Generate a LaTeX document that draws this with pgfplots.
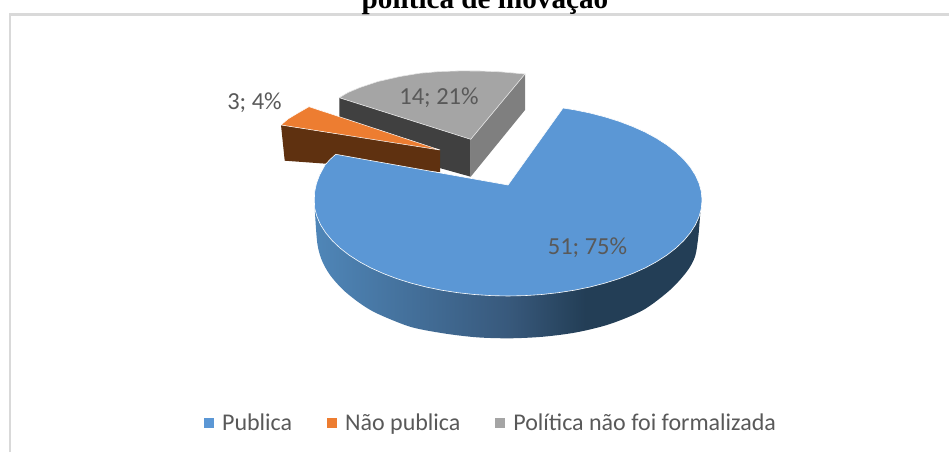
\documentclass[border=0pt]{standalone}
\usepackage{pgfplots}
\pgfplotsset{compat=1.18}
\usepackage{fontspec}
\setmainfont{Carlito}
\newfontfamily\titlefont{Liberation Serif}
\definecolor{blueTop}{HTML}{5B97D5}
\definecolor{orangeTop}{HTML}{ED7D31}
\definecolor{greyTop}{HTML}{A5A5A5}
\definecolor{greyLeft}{HTML}{404040}
\definecolor{greyRight}{HTML}{7F7F7F}
\definecolor{brownWall}{HTML}{5F3110}
\definecolor{txt}{HTML}{595959}
\definecolor{wallA}{HTML}{4F86B8}
\definecolor{wallB}{HTML}{38597C}
\definecolor{wallC}{HTML}{233E56}
\pgfdeclarehorizontalshading{wallshade}{100bp}{color(0bp)=(wallA); color(25bp)=(wallA); color(50bp)=(wallB); color(60bp)=(wallC); color(100bp)=(wallC)}
\begin{document}
\begin{tikzpicture}
\useasboundingbox (0,0) rectangle (949pt,452pt);
\clip (0,0) rectangle (949pt,452pt);
\begin{axis}[
  at={(0,0)},anchor=south west,
  width=949pt,height=452pt,scale only axis,
  xmin=0,xmax=949,ymin=0,ymax=452,y dir=reverse,
  hide axis,clip=false,
  legend style={draw=none,fill=none,font=\fontsize{24}{26}\selectfont\color{txt},
    at={(axis cs:201,423)},anchor=west,legend columns=3,
    /tikz/every odd column/.append style={column sep=6.5pt},
    /tikz/every even column/.append style={column sep=33pt}},
  legend cell align=left,
  legend image code/.code={\fill[#1] (0pt,-4pt) rectangle (9pt,5pt);},
]
\addlegendimage{blueTop}\addlegendentry{Publica}
\addlegendimage{orangeTop}\addlegendentry{Não publica}
\addlegendimage{greyTop}\addlegendentry{Política não foi formalizada}
% frame
\addplot[forget plot,draw=black!15,line width=2.2pt] coordinates {(10,452)(10,14.5)(949,14.5)};
% grey slice
\addplot[forget plot,fill=greyLeft,draw=none] coordinates {(339.3,97.7)(470.7,139.3)(470.7,176.7)(339.3,140)} --cycle;
\addplot[forget plot,fill=greyRight,draw=none] coordinates {(470.7,139.3)(525,74)(525,110)(470.7,176.7)} --cycle;
\addplot[forget plot,fill=greyTop,draw=black!10,line width=0.6pt] coordinates {(339.3,97.7)(348,92.5)(360,87.5)(378,81.5)(400,76.5)(420,73.2)(440,71.5)(460,70.9)(480,71)(500,71.8)(525,74)(470.7,139.3)} --cycle;
% orange slice
\addplot[forget plot,fill=brownWall,draw=none] coordinates {(281,125)(440,150)(440,172)(284.7,160.7)} --cycle;
\addplot[forget plot,fill=orangeTop,draw=white,line width=0.5pt] coordinates {(281,125)(288,119)(298,113)(309,106.7)(440,150)} --cycle;
% blue slice: wall
\addplot[forget plot,draw=none,shading=wallshade,smooth] coordinates {(315,205)(315,213)(317.3,243.3)(321.7,260)(330,275)(343.3,290)(360,303.3)(376.7,313.3)(410,326.7)(443.3,333.3)(476.7,337.3)(510,338.3)(543.3,336.7)(576.7,332.3)(610,324)(643.3,310)(670,290)(686.7,271.7)(695,256.7)(698.3,236.7)(700,216.7)(701,205)} --cycle;
% blue slice: top
\addplot[forget plot,fill=blueTop,draw=white,line width=0.6pt] coordinates {(508,185)(563,108)(574.35,109.8)(590,113)(605,116.9)(619.3,121.4)(632.7,126.5)(645.2,132.1)(656.6,138.3)(666.9,144.9)(676,152)(683.8,159.4)(690.3,167.2)(695.4,175.2)(699.05,183.3)(701.3,191.6)(702,200)(701.3,208.4)(699.05,216.7)(695.4,224.85)(690.3,232.8)(683.8,240.6)(676,248)(666.9,255.1)(656.6,261.7)(645.2,267.9)(632.7,273.5)(619.3,278.6)(605,283.1)(590,287)(574.35,290.2)(558.2,292.7)(541.7,294.5)(524.9,295.6)(508,296)(491.1,295.6)(474.3,294.5)(457.8,292.7)(441.65,290.2)(426,287)(411,283.1)(396.7,278.6)(383.3,273.5)(370.8,267.9)(359.4,261.7)(349.1,255.1)(340,248)(332.2,240.6)(325.7,232.8)(320.6,224.85)(317,216.7)(314.7,208.4)(314.3,200)(314.7,191.6)(316.5,183.3)(319.5,175.2)(325,165)(330,159.5)(335.7,154.3)} --cycle;
% labels
\node[font=\fontsize{24.5}{26}\selectfont,text=txt] at (axis cs:587.5,248) {51; 75\%};
\node[font=\fontsize{24.5}{26}\selectfont,text=txt] at (axis cs:439,98) {14; 21\%};
\node[font=\fontsize{24.5}{26}\selectfont,text=txt] at (axis cs:254.5,103) {3; 4\%};
\node[font=\titlefont\bfseries\fontsize{29.2}{31}\selectfont,text=black,anchor=base] at (axis cs:485,8.5) {política de inovação};
\end{axis}
\end{tikzpicture}
\end{document}
